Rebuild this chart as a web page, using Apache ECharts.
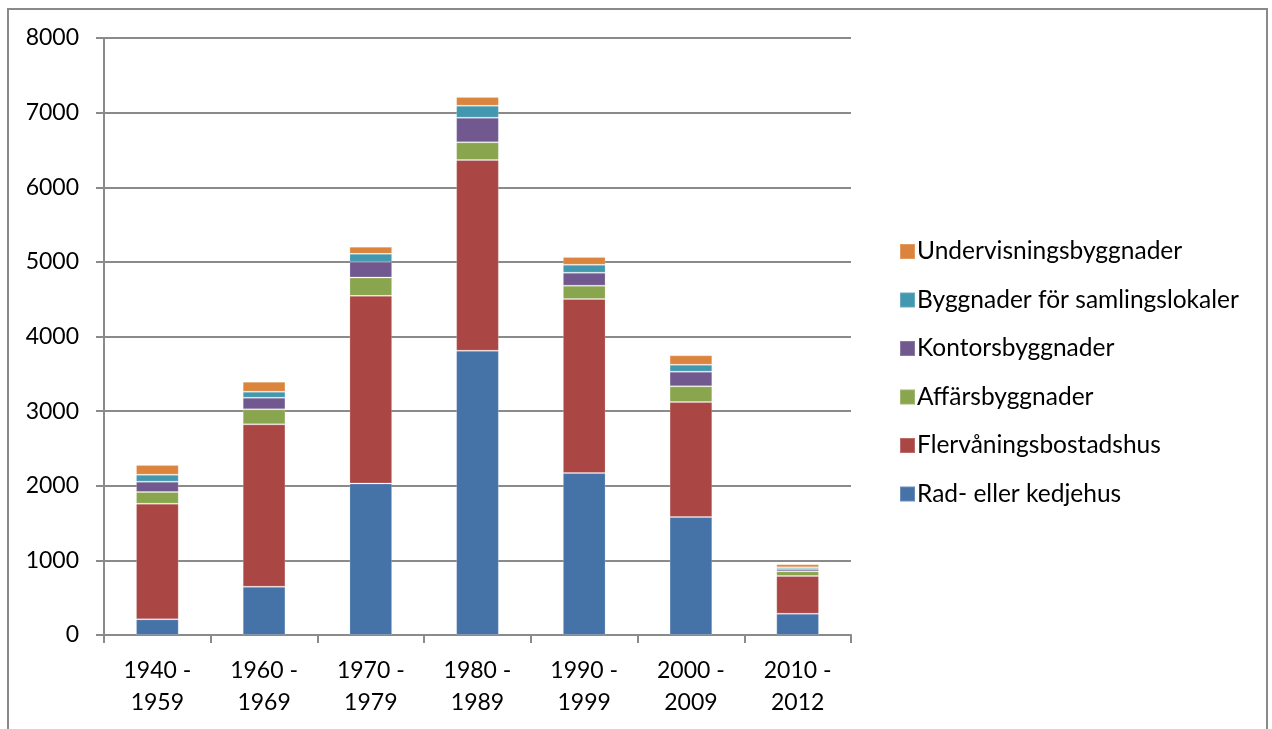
<!DOCTYPE html>
<html>
<head>
<meta charset="utf-8">
<script src="https://cdn.jsdelivr.net/npm/echarts@6/dist/echarts.min.js"></script>
<style>
  html, body { margin: 0; padding: 0; background: #fff; }
  #chart { width: 1272px; height: 729px; }
</style>
</head>
<body>
<div id="chart"></div>
<script>
// Periods of construction
const periods = ['1940 -\n1959', '1960 -\n1969', '1970 -\n1979', '1980 -\n1989', '1990 -\n1999', '2000 -\n2009', '2010 -\n2012'];

// Number of buildings per type, stacked bottom to top
const radKedjehus        = [210, 647, 2030, 3810, 2170, 1580, 286];
const flervaningshus     = [1550, 2176, 2515, 2555, 2333, 1542, 505];
const affarsbyggnader    = [156, 201, 246, 237, 178, 210, 62];
const kontorsbyggnader   = [139, 156, 210, 330, 174, 197, 31];
const samlingslokaler    = [94, 80, 107, 161, 107, 93, 23];
const undervisning       = [129, 134, 94, 116, 103, 126, 40];

const yTicks = { min: 0, max: 8000, interval: 1000 };

const seriesDefs = [
  { name: 'Rad- eller kedjehus', data: radKedjehus, color: '#4572A7' },
  { name: 'Flervåningsbostadshus', data: flervaningshus, color: '#AA4643' },
  { name: 'Affärsbyggnader', data: affarsbyggnader, color: '#89A54E' },
  { name: 'Kontorsbyggnader', data: kontorsbyggnader, color: '#71588F' },
  { name: 'Byggnader för samlingslokaler', data: samlingslokaler, color: '#4198AF' },
  { name: 'Undervisningsbyggnader', data: undervisning, color: '#DB843D' }
];

const FONT = 'Lato';
const GRID_COLOR = '#8a8a8a';

const chart = echarts.init(document.getElementById('chart'), null, { renderer: 'canvas' });

chart.setOption({
  animation: false,
  backgroundColor: '#ffffff',
  textStyle: { fontFamily: FONT, color: '#000' },
  graphic: [{
    type: 'rect',
    silent: true,
    shape: { x: 8, y: 9, width: 1259, height: 800 },
    style: { fill: 'none', stroke: '#8a8a8a', lineWidth: 2 }
  }],
  grid: { left: 104, right: 421, top: 38, bottom: 94, containLabel: false },
  legend: {
    orient: 'vertical',
    left: 894,
    top: 234,
    icon: 'rect',
    itemWidth: 15,
    itemHeight: 15,
    itemGap: 23.5,
    selectedMode: false,
    data: seriesDefs.map(s => s.name).reverse(),
    textStyle: { fontFamily: FONT, fontSize: 24.5, color: '#000', lineHeight: 24, padding: [0, 0, 0, -3] }
  },
  xAxis: {
    type: 'category',
    data: periods,
    axisLine: { show: true, lineStyle: { color: GRID_COLOR, width: 2 } },
    axisTick: { show: true, length: 8, lineStyle: { color: GRID_COLOR, width: 2 } },
    axisLabel: { fontFamily: FONT, fontSize: 23, color: '#000', lineHeight: 32, margin: 20 }
  },
  yAxis: {
    type: 'value',
    min: yTicks.min,
    max: yTicks.max,
    interval: yTicks.interval,
    axisLine: { show: true, lineStyle: { color: GRID_COLOR, width: 2 } },
    axisTick: { show: true, length: 8, lineStyle: { color: GRID_COLOR, width: 2 } },
    splitLine: { show: true, lineStyle: { color: GRID_COLOR, width: 2 } },
    axisLabel: { fontFamily: FONT, fontSize: 23, color: '#000', margin: 25, formatter: v => String(v) }
  },
  series: seriesDefs.map(s => ({
    name: s.name,
    type: 'bar',
    stack: 'total',
    data: s.data,
    barCategoryGap: '60%',
    itemStyle: { color: s.color, borderColor: 'rgba(255,255,255,0.2)', borderWidth: 1 }
  }))
});
</script>
</body>
</html>
